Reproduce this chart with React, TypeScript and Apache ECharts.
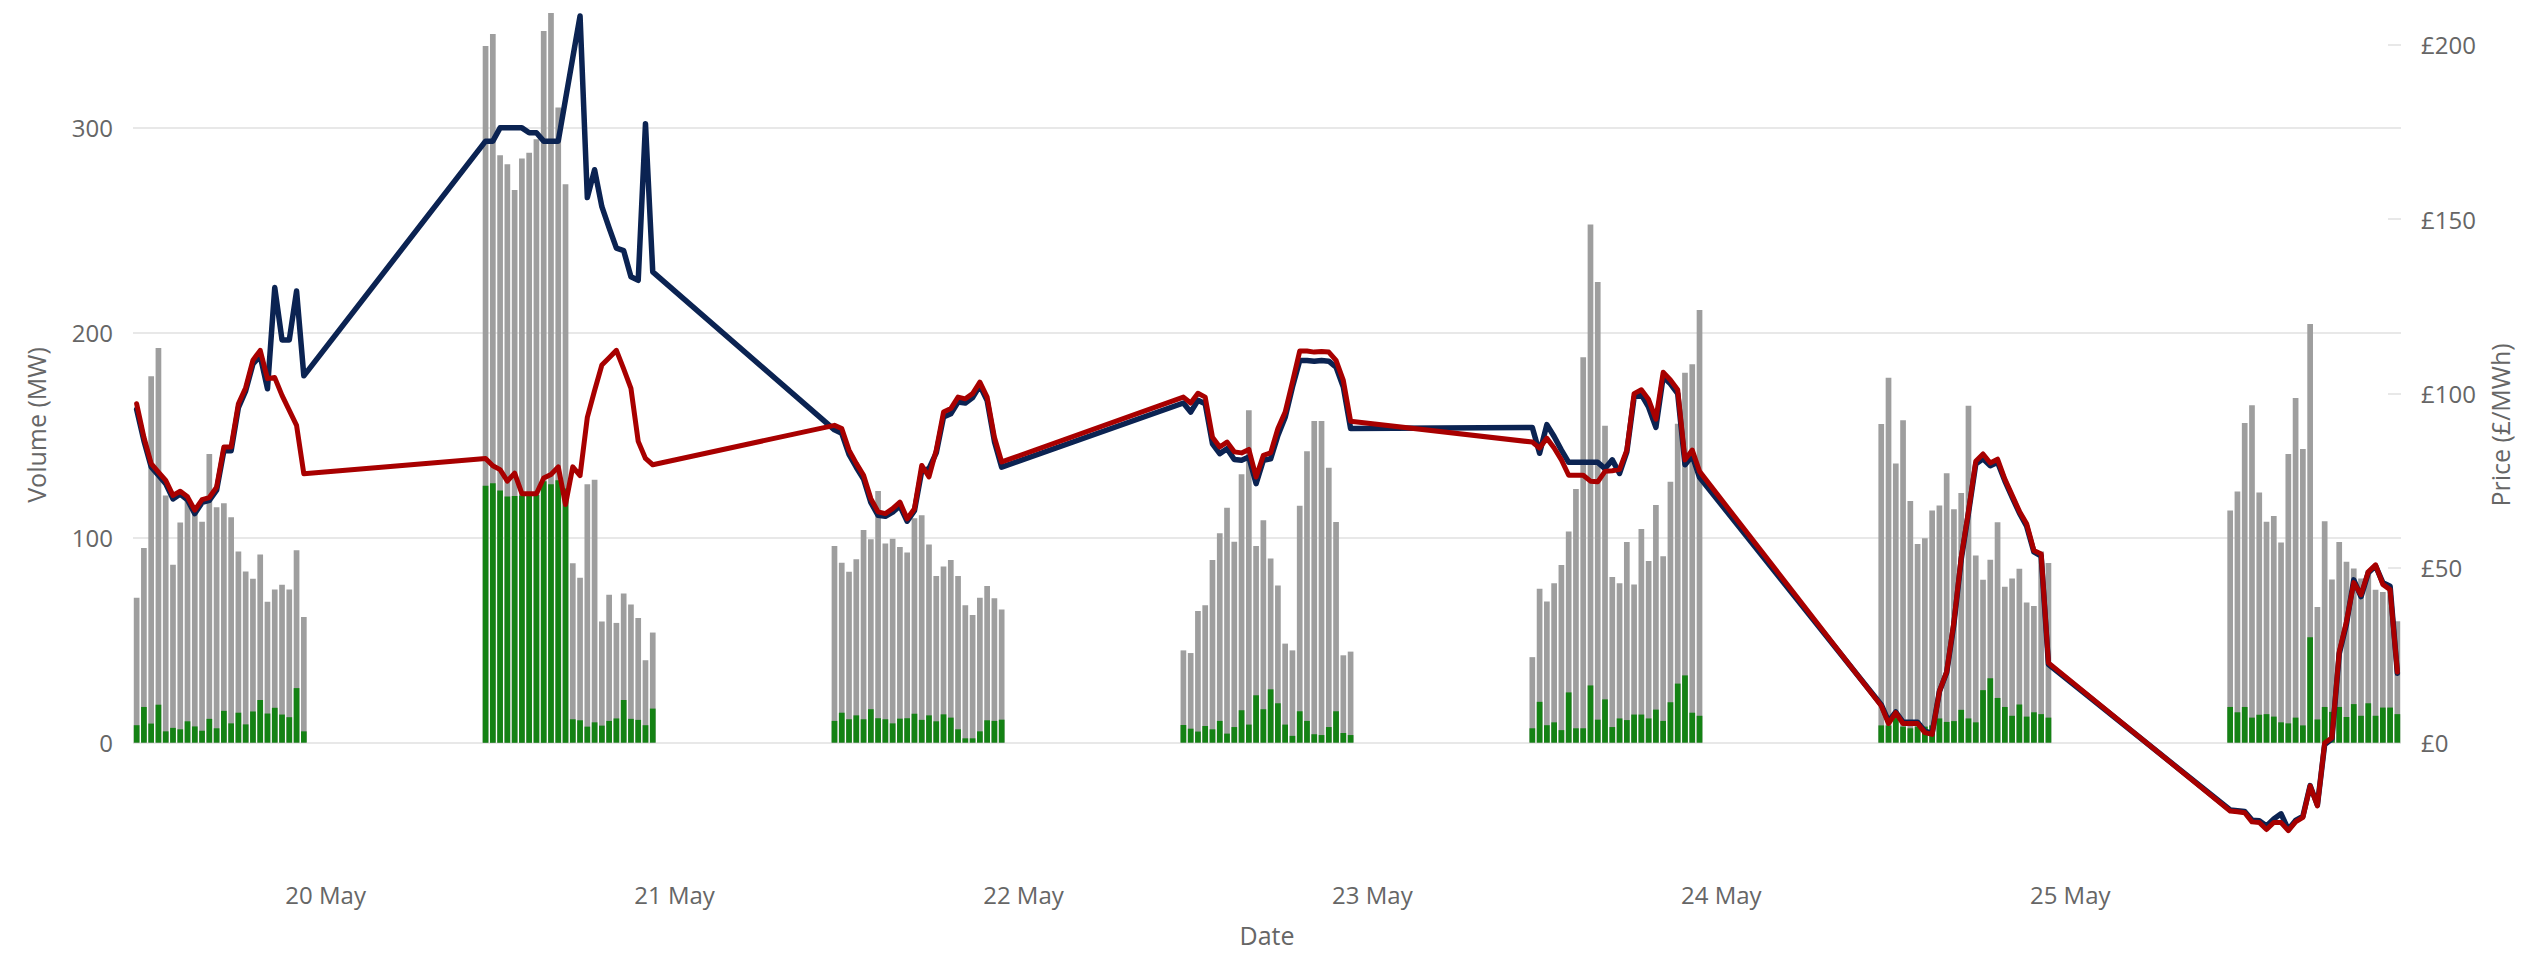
import React, { useEffect, useRef } from 'react';
import * as echarts from 'echarts';

// ---- time structure ----
const YEAR = 2024;
const MONTH = 4; // May (0-based)
const MONTH_NAMES = ['Jan', 'Feb', 'Mar', 'Apr', 'May', 'Jun', 'Jul', 'Aug', 'Sep', 'Oct', 'Nov', 'Dec'];
const DAYS = [19, 20, 21, 22, 23, 24, 25];
const FIRST_SLOT_HOUR = 11;
const SLOT_MINUTES = 30;

// ---- tick labels ----
const X_LABEL_DAYS = [20, 21, 22, 23, 24, 25];
const VOLUME_TICKS = [0, 100, 200, 300];
const PRICE_TICKS = [0, 50, 100, 150, 200];

// ---- total volume (grey bars, MW), one row per day, half-hourly 11:00-22:30 ----
const TOTAL_VOLUME = [
  [70.7, 95.0, 178.7, 192.5, 120.5, 86.8, 107.4, 118, 113, 107.8, 140.8, 114.8, 116.8, 110, 93.2, 83.5, 79.9, 91.8, 68.7, 74.7, 77.0, 74.7, 93.9, 61.3],
  [339.8, 345.7, 286.6, 282.1, 269.6, 284.9, 287.8, 294.4, 347.1, 355.9, 309.8, 272.4, 87.5, 80.4, 126.0, 128.2, 59.1, 72.1, 58.4, 72.8, 67.4, 60.8, 40.2, 53.7],
  [95.9, 87.8, 83.3, 89.4, 103.7, 99.2, 122.8, 97.1, 99.5, 95.4, 92.7, 109.4, 110.9, 96.7, 81.3, 85.9, 89.1, 81.3, 67.0, 62.3, 70.7, 76.4, 70.4, 65.0],
  [45.0, 43.7, 64.2, 67.0, 89.1, 102.1, 114.6, 98.0, 130.9, 162.1, 95.9, 108.5, 89.8, 76.7, 48.3, 45.0, 115.6, 142.1, 156.9, 156.9, 134.1, 107.6, 42.6, 44.4],
  [41.7, 75.1, 68.9, 77.8, 86.7, 103.0, 123.7, 188.0, 252.8, 224.7, 154.6, 80.8, 77.8, 97.9, 77.2, 104.2, 88.6, 115.9, 90.9, 127.3, 155.6, 180.5, 184.6, 211.0],
  [155.4, 178.0, 136.2, 157.3, 117.9, 96.9, 99.7, 113.2, 115.7, 131.4, 113.9, 121.8, 164.3, 91.3, 79.4, 89.2, 107.5, 76.1, 80.1, 84.8, 68.3, 66.6, 93.2, 87.6],
  [113.2, 122.5, 155.9, 164.6, 122.0, 107.7, 110.5, 97.6, 140.8, 168.1, 143.2, 204.2, 66.2, 108.0, 79.6, 97.9, 88.3, 85.0, 80.1, 84.0, 74.6, 73.5, 74.0, 59.2],
];

// ---- green volume (MW) ----
const GREEN_VOLUME = [
  [8.5, 17.4, 9.3, 18.5, 5.5, 7.2, 6.5, 10.4, 7.9, 5.8, 11.6, 7.0, 15.5, 9.4, 14.6, 8.9, 15.2, 20.8, 14.2, 17.0, 13.7, 12.4, 26.6, 5.5],
  [125.3, 126.5, 123.0, 120.1, 120.3, 120.5, 120.5, 120.8, 127.5, 126.0, 128.0, 124.0, 11.4, 10.9, 7.8, 9.9, 8.3, 10.6, 11.8, 20.8, 11.6, 11.1, 8.5, 16.6],
  [10.6, 14.6, 11.4, 13.3, 11.4, 16.3, 11.9, 11.4, 9.4, 11.7, 11.9, 14.1, 11.1, 13.3, 10.4, 13.8, 12.2, 6.5, 2.1, 2.1, 5.5, 10.9, 10.6, 11.2],
  [8.6, 6.8, 5.4, 8.1, 6.5, 10.6, 4.4, 7.6, 15.8, 8.8, 23.1, 16.3, 26.0, 19.2, 8.8, 3.3, 15.3, 10.6, 4.1, 3.7, 7.6, 15.3, 4.7, 3.7],
  [7.0, 19.9, 8.5, 9.9, 6.1, 24.5, 7.0, 7.0, 27.9, 11.2, 21.1, 7.6, 11.8, 11.0, 13.7, 13.7, 11.8, 16.1, 10.6, 19.7, 28.8, 32.8, 14.6, 13.1],
  [8.4, 8.4, 12.0, 7.8, 7.0, 7.8, 7.8, 8.4, 11.8, 10.1, 10.5, 16.0, 11.8, 9.9, 25.6, 31.4, 21.8, 17.4, 13.1, 18.6, 12.7, 14.8, 13.9, 12.2],
  [17.4, 14.8, 17.4, 12.2, 13.6, 13.9, 12.7, 9.9, 9.4, 12.2, 8.4, 51.4, 11.3, 17.4, 15.0, 17.4, 12.5, 18.8, 13.1, 19.2, 13.1, 17.1, 17.1, 13.9],
];

// ---- navy price line (£/MWh) ----
const NAVY_PRICE = [
  [95.5, 86.5, 79.0, 76.6, 74.2, 69.8, 71.2, 69.5, 65.6, 68.8, 69.4, 72.3, 83.6, 83.6, 96.0, 100.8, 108.5, 110.8, 101.4, 130.4, 115.4, 115.4, 129.4, 105.1],
  [172.4, 172.4, 176.2, 176.2, 176.2, 176.2, 174.8, 174.8, 172.4, 172.4, 172.4, 184.4, 196.4, 208.3, 156.2, 164.2, 153.6, 147.5, 141.7, 141.0, 133.5, 132.5, 177.4, 134.9],
  [89.6, 88.6, 82.6, 78.9, 75.5, 68.8, 65.1, 64.8, 66.0, 67.8, 63.4, 66.4, 77.8, 78.5, 83.0, 93.3, 94.2, 97.6, 97.3, 98.9, 102.3, 98.0, 86.3, 78.9],
  [97.3, 94.7, 98.1, 97.1, 85.6, 82.8, 84.2, 81.1, 80.9, 81.8, 74.2, 80.9, 81.3, 88.0, 93.2, 101.9, 109.5, 109.5, 109.3, 109.5, 109.3, 107.6, 101.9, 90.0],
  [90.3, 82.9, 91.1, 87.7, 83.8, 80.3, 80.3, 80.3, 80.3, 80.3, 78.5, 81.0, 77.1, 83.3, 98.9, 99.7, 96.1, 90.3, 104.8, 102.8, 100.0, 79.6, 82.2, 76.0],
  [10.8, 6.0, 8.7, 5.8, 5.8, 5.8, 3.2, 2.6, 14.6, 20.0, 34.0, 52.5, 65.8, 79.8, 81.3, 79.3, 80.3, 75.0, 70.3, 65.8, 62.0, 54.6, 53.4, 22.4],
  [-19.4, -19.6, -19.8, -22.3, -22.5, -24.0, -22.0, -20.5, -25.0, -22.4, -21.2, -12.4, -18.0, -0.6, 1.0, 25.4, 34.0, 46.6, 41.8, 48.6, 50.6, 45.8, 44.8, 19.8],
];

// ---- red price line (£/MWh) ----
const RED_PRICE = [
  [97.1, 87.5, 79.9, 77.5, 75.1, 70.8, 72.0, 70.4, 66.6, 69.6, 70.2, 73.2, 84.7, 84.7, 97.1, 101.7, 109.6, 112.4, 104.3, 104.6, 99.5, 95.2, 90.9, 77.0],
  [81.4, 79.3, 78.2, 74.9, 77.2, 71.3, 71.3, 71.3, 75.8, 76.8, 79.0, 68.2, 79.0, 76.5, 93.2, 100.9, 108.2, 110.3, 112.4, 107.1, 101.5, 86.3, 81.4, 79.6],
  [90.9, 90.0, 83.8, 80.0, 76.6, 69.9, 66.1, 65.6, 67.0, 68.9, 64.1, 67.0, 79.4, 76.1, 83.8, 94.7, 95.7, 99.0, 98.5, 100.0, 103.3, 99.0, 87.5, 80.4],
  [99.0, 97.3, 100.1, 99.0, 87.5, 84.7, 86.1, 83.3, 83.0, 84.0, 76.1, 82.3, 83.0, 90.0, 94.7, 103.3, 112.2, 112.2, 111.9, 112.1, 111.9, 109.5, 103.8, 92.1],
  [86.1, 84.4, 87.2, 84.4, 81.0, 76.6, 76.6, 76.6, 74.9, 74.7, 77.7, 77.9, 78.3, 83.8, 100.0, 101.1, 98.3, 92.7, 106.1, 103.9, 101.1, 81.0, 83.8, 77.7],
  [10.5, 5.4, 8.5, 5.4, 5.4, 5.4, 2.8, 2.3, 14.6, 20.2, 34.6, 53.0, 66.3, 80.6, 82.7, 80.1, 81.2, 75.5, 70.9, 66.3, 62.7, 55.0, 54.0, 22.8],
  [-19.7, -19.9, -20.2, -22.8, -23.0, -25.0, -23.0, -23.0, -25.3, -22.8, -21.5, -12.5, -18.2, -0.2, 1.3, 25.9, 34.6, 45.8, 42.3, 48.9, 50.9, 45.3, 43.8, 20.2],
];

const slotTime = (day: number, i: number) =>
  Date.UTC(YEAR, MONTH, day, FIRST_SLOT_HOUR, i * SLOT_MINUTES);

const toPoints = (rows: number[][]) =>
  rows.flatMap((row, d) => row.map((v, i) => [slotTime(DAYS[d], i), v]));

const LABEL_COLOR = '#666666';
const FONT = '"Open Sans", "Noto Sans", sans-serif';

export default function App() {
  const ref = useRef<HTMLDivElement>(null);

  useEffect(() => {
    document.body.style.margin = '0';
    if (!ref.current) return;
    const chart = echarts.init(ref.current, undefined, { renderer: 'svg' });

    const xMin = Date.UTC(YEAR, MONTH, DAYS[0], FIRST_SLOT_HOUR, -15);
    const xMax = Date.UTC(YEAR, MONTH, DAYS[DAYS.length - 1], FIRST_SLOT_HOUR, 23 * SLOT_MINUTES + 15);

    const option: any = {
      animation: false,
      backgroundColor: '#ffffff',
      textStyle: { fontFamily: FONT },
      grid: { left: 133, right: 128, top: 10, bottom: 114, containLabel: false },
      xAxis: {
        type: 'value',
        min: xMin,
        max: xMax,
        name: 'Date',
        nameLocation: 'middle',
        nameGap: 82,
        nameTextStyle: { fontSize: 25, color: LABEL_COLOR, fontFamily: FONT },
        axisLine: { show: false },
        axisTick: { show: false },
        splitLine: { show: false },
        axisLabel: {
          customValues: X_LABEL_DAYS.map((d) => Date.UTC(YEAR, MONTH, d)),
          formatter: (value: number) => {
            const dt = new Date(value);
            return `${dt.getUTCDate()} ${MONTH_NAMES[dt.getUTCMonth()]}`;
          },
          fontSize: 24,
          color: LABEL_COLOR,
          fontFamily: FONT,
          margin: 42,
        },
      },
      yAxis: [
        {
          type: 'value',
          position: 'left',
          min: -47.5,
          max: 357.4,
          name: 'Volume (MW)',
          nameLocation: 'middle',
          nameRotate: 90,
          nameGap: 85,
          nameTextStyle: { fontSize: 25, color: LABEL_COLOR, fontFamily: FONT },
          axisLine: { show: false },
          axisTick: { show: false, customValues: VOLUME_TICKS },
          axisLabel: {
            customValues: VOLUME_TICKS,
            fontSize: 24,
            color: LABEL_COLOR,
            fontFamily: FONT,
            margin: 20,
          },
          splitLine: { show: true, lineStyle: { color: '#e8e8e8', width: 2 } },
        },
        {
          type: 'value',
          position: 'right',
          min: -28.0,
          max: 210.0,
          name: 'Price (£/MWh)',
          nameLocation: 'middle',
          nameRotate: 90,
          nameGap: 86,
          nameTextStyle: { fontSize: 25, color: LABEL_COLOR, fontFamily: FONT },
          axisLine: { show: false },
          axisTick: {
            show: true,
            inside: true,
            length: 13,
            customValues: PRICE_TICKS,
            lineStyle: { color: '#e8e8e8', width: 2 },
          },
          axisLabel: {
            customValues: PRICE_TICKS,
            formatter: (v: number) => `£${v}`,
            fontSize: 24,
            color: LABEL_COLOR,
            fontFamily: FONT,
            margin: 20,
          },
          splitLine: { show: false },
        },
      ],
      series: [
        {
          name: 'Total volume',
          type: 'bar',
          yAxisIndex: 0,
          data: toPoints(TOTAL_VOLUME),
          barWidth: 5.7,
          barGap: '-100%',
          itemStyle: { color: '#9e9e9e' },
          z: 2,
        },
        {
          name: 'Green volume',
          type: 'bar',
          yAxisIndex: 0,
          data: toPoints(GREEN_VOLUME),
          barWidth: 5.7,
          barGap: '-100%',
          itemStyle: { color: '#148214' },
          z: 3,
        },
        {
          name: 'Navy price',
          type: 'line',
          yAxisIndex: 1,
          data: toPoints(NAVY_PRICE),
          symbol: 'none',
          showSymbol: false,
          lineStyle: { color: '#0b2352', width: 5.5, join: 'round', cap: 'round' },
          itemStyle: { color: '#0b2352' },
          z: 4,
        },
        {
          name: 'Red price',
          type: 'line',
          yAxisIndex: 1,
          data: toPoints(RED_PRICE),
          symbol: 'none',
          showSymbol: false,
          lineStyle: { color: '#a80000', width: 5, join: 'round', cap: 'round' },
          itemStyle: { color: '#a80000' },
          z: 5,
        },
      ],
    };

    chart.setOption(option);
    return () => {
      chart.dispose();
    };
  }, []);

  return <div ref={ref} style={{ width: 2529, height: 954 }} />;
}
